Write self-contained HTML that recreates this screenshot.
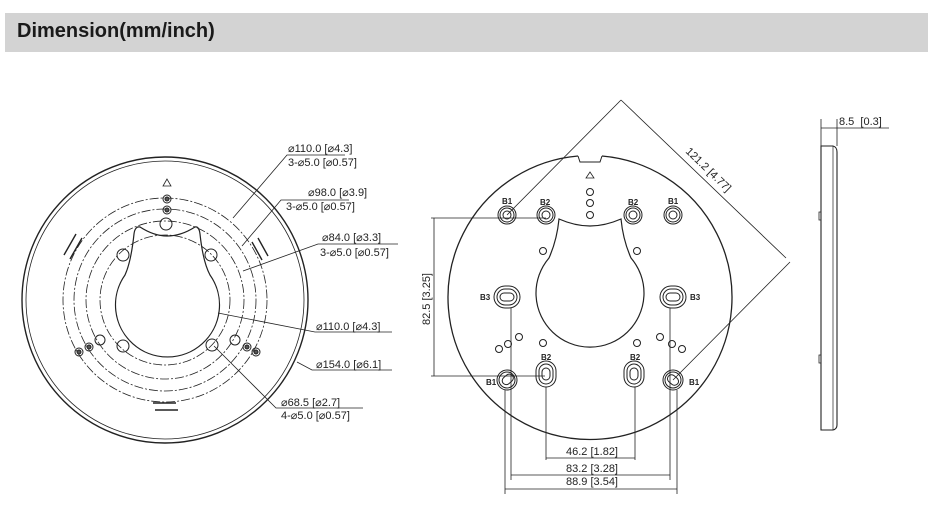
<!DOCTYPE html>
<html><head><meta charset="utf-8"><style>
html,body{margin:0;padding:0;background:#fff;}
body{width:936px;height:522px;position:relative;overflow:hidden;}
.hdr{position:absolute;left:5px;top:13px;width:923px;height:39px;background:#d3d3d3;}
.hdr span{position:absolute;left:12px;top:7px;font:bold 20px "Liberation Sans",sans-serif;color:#1a1a1a;}
svg{position:absolute;left:0;top:0;}
text{font-family:"Liberation Sans",sans-serif;font-size:11px;fill:#222;}
</style></head><body>
<div class="hdr"><span>Dimension(mm/inch)</span></div>
<svg width="936" height="522" viewBox="0 0 936 522" fill="none" stroke="#222" stroke-width="1">
<!-- LEFT VIEW -->
<circle cx="165" cy="300" r="143" stroke-width="1.4"/>
<circle cx="165" cy="300" r="139" stroke-width="0.8"/>
<g stroke-dasharray="9,2,2,2" stroke-width="0.8">
<circle cx="165" cy="300" r="102"/>
<circle cx="165" cy="300" r="91"/>
<circle cx="165" cy="300" r="79"/>
<circle cx="165" cy="300" r="65"/>
</g>
<path d="M140 227 Q154 236 167 236 Q181 236 195 227 Q199 226 200 234 Q203 262 210 275 A52 52 0 1 1 125 275 Q131 262 134 234 Q135 226 140 227 Z" stroke-width="1.2"/>
<polygon points="167,179 163,186 171,186" stroke-width="0.8"/>
<circle cx="167" cy="199" r="4"/><circle cx="167" cy="199" r="2" fill="#555"/>
<circle cx="167" cy="210" r="4"/><circle cx="167" cy="210" r="2" fill="#555"/>
<circle cx="166" cy="224" r="6"/>
<circle cx="123" cy="255" r="6"/><circle cx="211" cy="255" r="6"/>
<circle cx="100" cy="340" r="5"/><circle cx="123" cy="346" r="6"/>
<circle cx="212" cy="345" r="6"/><circle cx="235" cy="340" r="5"/>
<circle cx="79" cy="352" r="4"/><circle cx="79" cy="352" r="2" fill="#555"/>
<circle cx="89" cy="347" r="4"/><circle cx="89" cy="347" r="2" fill="#555"/>
<circle cx="247" cy="347" r="4"/><circle cx="247" cy="347" r="2" fill="#555"/>
<circle cx="256" cy="352" r="4"/><circle cx="256" cy="352" r="2" fill="#555"/>
<path d="M64 255 L76 234 M70 259 L82 238 M252 242 L262 260 M258 238 L268 256" stroke-width="1.4"/>
<path d="M153 403 H176 M155 410 H178" stroke-width="1.6"/>
<!-- leaders -->
<g stroke-width="0.8">
<path d="M233 218 L287 155 H345"/>
<path d="M242 246 L281 200 H349"/>
<path d="M243 271 L318 244 H398"/>
<path d="M218 313 L315 332 H392"/>
<path d="M297 362 L312 370 H392"/>
<path d="M214 346 L276 408 H363"/>
</g>
<g stroke="none">
<text x="288" y="152">⌀110.0 [⌀4.3]</text>
<text x="288" y="166">3-⌀5.0 [⌀0.57]</text>
<text x="308" y="196">⌀98.0 [⌀3.9]</text>
<text x="286" y="210">3-⌀5.0 [⌀0.57]</text>
<text x="322" y="241">⌀84.0 [⌀3.3]</text>
<text x="320" y="256">3-⌀5.0 [⌀0.57]</text>
<text x="316" y="330">⌀110.0 [⌀4.3]</text>
<text x="316" y="368">⌀154.0 [⌀6.1]</text>
<text x="281" y="406">⌀68.5 [⌀2.7]</text>
<text x="281" y="419">4-⌀5.0 [⌀0.57]</text>
</g>
<!-- RIGHT PLATE -->
<path d="M578 156 A142 142 0 1 0 602 156" stroke-width="1.3"/>
<path d="M578 156 L580 162 H600 L602 156" stroke-width="1"/>
<path d="M559 219 Q575 226 590 226 Q605 226 621 219 Q623 240 631 258 A54 54 0 1 1 549 258 Q557 240 559 219 Z" stroke-width="1.2"/>
<polygon points="590,172 586,178 594,178" stroke-width="0.8"/>
<circle cx="590" cy="192" r="3.5"/><circle cx="590" cy="203" r="3.5"/><circle cx="590" cy="215" r="3.5"/>
<g>
<circle cx="507" cy="215" r="9"/><circle cx="507" cy="215" r="7"/><circle cx="507" cy="215" r="4"/>
<circle cx="546" cy="215" r="9"/><circle cx="546" cy="215" r="7"/><circle cx="546" cy="215" r="4"/>
<circle cx="633" cy="215" r="9"/><circle cx="633" cy="215" r="7"/><circle cx="633" cy="215" r="4"/>
<circle cx="673" cy="215" r="9"/><circle cx="673" cy="215" r="7"/><circle cx="673" cy="215" r="4"/>
</g>
<circle cx="543" cy="251" r="3.5"/><circle cx="637" cy="251" r="3.5"/>
<rect x="494" y="286" width="26" height="22" rx="11"/><rect x="497" y="289" width="20" height="16" rx="8"/><rect x="500" y="293" width="14" height="8" rx="4"/>
<rect x="660" y="286" width="26" height="22" rx="11"/><rect x="663" y="289" width="20" height="16" rx="8"/><rect x="666" y="293" width="14" height="8" rx="4"/>
<circle cx="519" cy="337" r="3.5"/><circle cx="508" cy="344" r="3.5"/><circle cx="499" cy="349" r="3.5"/>
<circle cx="543" cy="343" r="3.5"/><circle cx="637" cy="343" r="3.5"/>
<circle cx="660" cy="337" r="3.5"/><circle cx="672" cy="344" r="3.5"/><circle cx="682" cy="349" r="3.5"/>
<rect x="536" y="361" width="20" height="26" rx="10"/><rect x="539" y="364" width="14" height="20" rx="7"/><rect x="542" y="368" width="8" height="12" rx="4"/>
<rect x="624" y="361" width="20" height="26" rx="10"/><rect x="627" y="364" width="14" height="20" rx="7"/><rect x="630" y="368" width="8" height="12" rx="4"/>
<circle cx="507" cy="380" r="10"/><circle cx="507" cy="380" r="8"/><rect x="502" y="376" width="12" height="8" rx="4" transform="rotate(-40 507 380)"/>
<circle cx="673" cy="380" r="10"/><circle cx="673" cy="380" r="8"/><rect x="667" y="376" width="12" height="8" rx="4" transform="rotate(40 673 380)"/>
<g stroke="none" style="font-weight:bold;font-size:8px">
<text x="502" y="204" style="font-size:8px;font-weight:bold">B1</text>
<text x="540" y="205" style="font-size:8px;font-weight:bold">B2</text>
<text x="628" y="205" style="font-size:8px;font-weight:bold">B2</text>
<text x="668" y="204" style="font-size:8px;font-weight:bold">B1</text>
<text x="480" y="300" style="font-size:8px;font-weight:bold">B3</text>
<text x="690" y="300" style="font-size:8px;font-weight:bold">B3</text>
<text x="541" y="360" style="font-size:8px;font-weight:bold">B2</text>
<text x="630" y="360" style="font-size:8px;font-weight:bold">B2</text>
<text x="486" y="385" style="font-size:8px;font-weight:bold">B1</text>
<text x="689" y="385" style="font-size:8px;font-weight:bold">B1</text>
</g>
<!-- dims right -->
<g stroke-width="0.8">
<path d="M431 218 H546 M431 376 H545 M434 218 V376"/>
<path d="M507 215 L621 100 M673 380 L790 262 M621 100 L786 258"/>
<path d="M546 387 V460 M635 387 V460 M546 458 H635"/>
<path d="M511 308 V480 M670 308 V480 M511 475 H670"/>
<path d="M505 390 V494 M677 390 V494 M505 489 H677"/>
</g>
<g stroke="none">
<text x="0" y="0" transform="translate(430 325) rotate(-90)">82.5 [3.25]</text>
<text x="0" y="0" transform="translate(685 152) rotate(44)">121.2 [4.77]</text>
<text x="566" y="455">46.2 [1.82]</text>
<text x="566" y="472">83.2 [3.28]</text>
<text x="566" y="485">88.9 [3.54]</text>
</g>
<!-- SIDE VIEW -->
<path d="M821 146 H833 Q837 147 837 152 V425 Q837 429 833 430 H821 Z" stroke-width="1.1"/>
<path d="M833 146 V430" stroke-width="0.7"/>
<path d="M821 212 H819 V220 H821 M821 355 H819 V363 H821" stroke-width="0.8"/>
<path d="M821 119 V146 M837 119 V146 M821 128 H889" stroke-width="0.8"/>
<text x="839" y="125" stroke="none">8.5&#160;&#160;[0.3]</text>
</svg>
</body></html>
